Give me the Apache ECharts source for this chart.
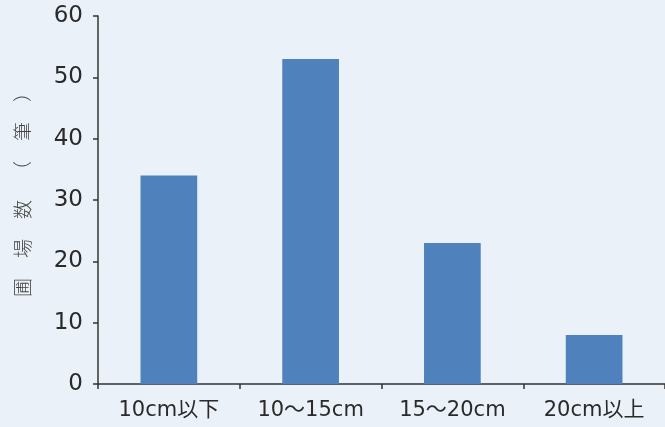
<!DOCTYPE html>
<html>
<head>
<meta charset="utf-8">
<script src="https://cdn.jsdelivr.net/npm/echarts@6/dist/echarts.min.js"></script>
<style>
  html, body { margin: 0; padding: 0; background: #eaf1f8; }
  #chart { width: 665px; height: 427px; }
</style>
</head>
<body>
<div id="chart"></div>
<script>
// Field counts by depth class
const categories = ['10cm以下', '10～15cm', '15～20cm', '20cm以上'];
const fieldCounts = [34, 53, 23, 8];
const yTicks = { min: 0, max: 60, interval: 10 };
const yAxisTitle = '圃場数（筆）';

const LABEL_FONT = '"DejaVu Sans", "Noto Sans CJK JP", sans-serif';
const CJK_FONT = '"Noto Sans CJK JP", sans-serif';
const chart = echarts.init(document.getElementById('chart'));

// Widely spaced, rotated axis title: one text element per character
const titleChars = Array.from(yAxisTitle);
const titleStep = 39;
const titleCenterY = 190;
const titleGraphics = titleChars.map((ch, i) => ({
  type: 'text',
  x: 23,
  y: titleCenterY + ((titleChars.length - 1) / 2 - i) * titleStep,
  rotation: Math.PI / 2,
  style: {
    text: ch,
    fill: '#444',
    font: '300 19px ' + CJK_FONT,
    align: 'center',
    verticalAlign: 'middle'
  }
}));

chart.setOption({
  backgroundColor: '#eaf1f8',
  animation: false,
  grid: { left: 98, right: -4, top: 16, bottom: 43 },
  graphic: titleGraphics,
  xAxis: {
    type: 'category',
    data: categories,
    axisLine: { lineStyle: { color: '#333', width: 1.5 } },
    axisTick: { show: true, interval: 0, length: 5, lineStyle: { color: '#333', width: 1.5 } },
    axisLabel: { interval: 0, color: '#2a2a2a', fontSize: 21, fontFamily: LABEL_FONT, margin: 16 }
  },
  yAxis: {
    type: 'value',
    min: yTicks.min,
    max: yTicks.max,
    interval: yTicks.interval,
    axisLine: { show: true, lineStyle: { color: '#333', width: 1.5 } },
    axisTick: { show: true, length: 5, lineStyle: { color: '#333', width: 1.5 } },
    splitLine: { show: false },
    axisLabel: { color: '#2a2a2a', fontSize: 23, fontFamily: LABEL_FONT, margin: 15 }
  },
  series: [{
    type: 'bar',
    data: fieldCounts,
    barWidth: '40%',
    itemStyle: { color: '#4f81bd' }
  }]
});
</script>
</body>
</html>
